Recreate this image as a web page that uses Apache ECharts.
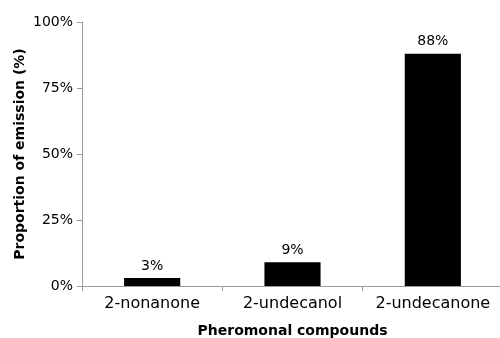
<!DOCTYPE html>
<html><head><meta charset="utf-8">
<script src="https://cdn.jsdelivr.net/npm/echarts@6/dist/echarts.min.js"></script>
<style>html,body{margin:0;padding:0;background:#fff}#c{width:500px;height:338px}</style>
</head><body><div id="c"></div>
<script>
var categories = ['2-nonanone', '2-undecanol', '2-undecanone'];
var values = [3, 9, 88];
var yTicks = [0, 25, 50, 75, 100];
var chart = echarts.init(document.getElementById('c'));
var font = 'DejaVu Sans, sans-serif';
chart.setOption({
  animation: false,
  grid: { left: 82, top: 22, width: 421, height: 264, containLabel: false, outerBoundsMode: 'none' },
  xAxis: {
    type: 'category', data: categories,
    name: 'Pheromonal compounds', nameLocation: 'middle', nameGap: 38,
    nameTextStyle: { fontFamily: font, fontWeight: 'bold', fontSize: 14, color: '#000' },
    axisLine: { lineStyle: { color: '#9a9a9a', width: 1 } },
    axisTick: { show: true, alignWithLabel: false, length: 5, lineStyle: { color: '#9a9a9a' } },
    axisLabel: { fontFamily: font, fontSize: 16, color: '#000', margin: 10, interval: 0, hideOverlap: false }
  },
  yAxis: {
    type: 'value', min: 0, max: 100, interval: 25,
    name: 'Proportion of emission (%)', nameLocation: 'middle', nameGap: 55, nameRotate: 90,
    nameMoveOverlap: false,
    nameTextStyle: { fontFamily: font, fontWeight: 'bold', fontSize: 14, color: '#000' },
    axisLine: { show: true, lineStyle: { color: '#9a9a9a', width: 1 } },
    axisTick: { show: true, length: 5, lineStyle: { color: '#9a9a9a' } },
    splitLine: { show: false },
    axisLabel: { fontFamily: font, fontSize: 14, color: '#000', margin: 9,
      formatter: function (v) { return yTicks.indexOf(v) >= 0 ? v + '%' : ''; } }
  },
  series: [{
    type: 'bar', data: values, barWidth: '40%',
    itemStyle: { color: '#000' },
    label: { show: true, position: 'top', distance: 5, fontFamily: font, fontSize: 14, color: '#000',
      formatter: function (p) { return p.value + '%'; } }
  }]
});
</script></body></html>
